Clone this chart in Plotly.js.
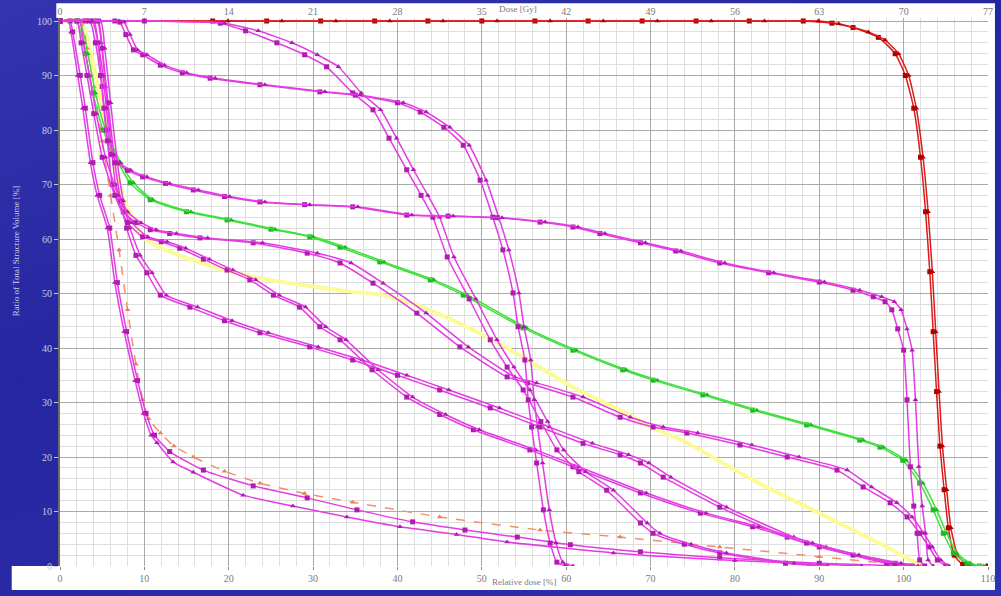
<!DOCTYPE html>
<html><head><meta charset="utf-8">
<script src="https://cdn.plot.ly/plotly-3.0.1.min.js"></script>
<style>
html,body{margin:0;padding:0;width:1001px;height:596px;overflow:hidden;
background:linear-gradient(160deg,#3434b0 0%,#2626a0 40%,#2a2aa8 70%,#3030b0 100%);}
#chart{width:1001px;height:596px;}
</style></head><body>
<div id="chart"></div>
<script>
// ---- tick labels ----
const relTicks = [0,10,20,30,40,50,60,70,80,90,100,110];
const doseTicks = [0,7,14,21,28,35,42,49,56,63,70,77];
const volTicks = [0,10,20,30,40,50,60,70,80,90,100];

// ---- DVH curves: relative dose [%] vs volume [%] ----
const redA_x = [0,18.1,24.5,30.9,37.3,43.6,50,56.3,62.6,69,75.4,81.7,88.1,91.5,94,97,99,100.2,101.2,102,102.6,103.1,103.5,103.9,104.3,104.8,105.3,106,107,110];
const redA_y = [100,100,100,100,100,100,100,100,100,100,100,100,100,99.6,98.8,97,94,90,84,75,65,54,43,32,22,14,7,2,0.3,0];
const redB_x = [0,19.9,26.3,32.7,39.1,45.4,51.8,58.1,64.4,70.8,77.2,83.5,89.9,92.3,95.8,97.8,99.4,100.6,101.5,102.3,102.9,103.4,103.8,104.2,104.6,105.1,105.6,106.4,107.5,110];
const redB_y = [100,100,100,100,100,100,100,100,100,100,100,100,100,99.5,98,96.5,94,90,84,75,65,54,43,32,22,14,7,2,0.3,0];

const greenA_x = [0,2,3,3.9,5.1,6.9,8.3,10.7,15,19.8,25,29.6,33.2,37.9,43.9,47.8,54.9,60.8,66.7,70.3,76.2,82.1,88.5,94.8,97.2,99.9,101.9,103.5,104.7,105.9,107.5,109];
const greenA_y = [100,100,94,86.8,80,74,70.3,67.2,65,63.5,61.8,60.4,58.5,55.8,52.5,49.7,43.7,39.6,36,34.1,31.4,28.6,25.9,23.1,21.8,19.4,15.2,10.3,6,2.4,0.5,0];
const greenB_x = [0,2.3,3.3,4.2,5.4,7.2,8.7,11,15.5,20.3,25.5,30,33.8,38.4,44.3,48.3,55.3,61.2,67.1,70.8,76.7,82.6,89,95.2,97.6,100.3,102.3,103.9,105.1,106.3,107.9,109.5];
const greenB_y = [100,100,94,86.8,80,74,70.3,67.2,65,63.5,61.8,60.4,58.5,55.8,52.5,49.7,43.7,39.6,36,34.1,31.4,28.6,25.9,23.1,21.8,19.4,15.2,10.3,6,2.4,0.5,0];

const yellow_x = [0,2.5,3.5,4.5,5.9,7.5,9.8,12.5,15.8,19.5,23.7,29,34.7,38.3,43,49,54.9,60.8,66.4,70,74.3,82.1,90,98,100.8,102.5];
const yellow_y = [100,100,95,88,77.6,67.7,60.4,58,56.1,54.3,52.8,51.5,50.3,49.7,47.5,43.3,38.3,32.8,28.6,25.6,22.6,15.8,9.7,3.5,1.1,0];

const orange_x = [0,2.5,3.2,4,5,6,7,8,9,9.8,10.5,11.9,13.5,15.8,19.5,23.7,29,34.7,45,56.9,66.4,78.2,90,98,102];
const orange_y = [100,100,95,88,78,68,58,47,37,30.5,27,24.4,22,20,17.4,15.2,13.3,11.7,9,6.6,5.3,3.5,1.7,0.5,0];

const m1A_x = [0,1.2,1.5,2.4,3,3.9,4.7,5.9,6.8,7.9,9.2,10.2,11.2,13,17,22.9,29.3,35.2,41.8,48,54.2,60.5,68.8,78.2,90,100];
const m1A_y = [100,100,98,90,84,74,68,62,52,43,34,28,24,21,17.6,14.7,12.5,10.3,8.1,6.6,5.3,3.9,2.6,1.5,0.5,0];
const m1B_x = [0,1.0,1.3,2.1,2.7,3.6,4.4,5.6,6.5,7.6,8.9,9.9,10.8,11.5,13.4,15.8,21.7,27.6,34,40.3,47,53,65.6,80,95];
const m1B_y = [100,100,98,90,84,74,68,62,52,43,34,28,24,22.6,19.1,17.2,13,11,9,7.2,5.8,4.4,2.4,1,0];

const m2A_x = [0,4,4.5,5,5.5,6.2,7.5,9,10.7,13,16.6,22.9,29.3,33.2,37.1,42.3,47.4,53,55.4,60.8,66.4,70.3,74.3,80.6,86.2,92.1,95.2,98.4,100.4,101.9,103,104,105];
const m2A_y = [100,100,96,88,80,70,65,63,61.7,61,60.2,59.3,57.4,55.6,51.9,46.4,40.2,34.7,33.6,31,27.3,25.5,24.4,22.2,20,17.6,14.5,11.6,9,6,3.5,1.1,0];
const m2B_x = [0,4.4,4.9,5.4,5.9,6.6,8,9.6,11.4,13.8,17.5,24,30.5,34.5,38.3,43.4,48.4,53.9,56.5,62,67.6,71.5,75.6,82,87.6,93.3,96.2,99.2,101,102.4,103.4,104.4,105.4];
const m2B_y = [100,100,96,88,80,70,65,63,61.7,61,60.2,59.3,57.4,55.6,51.9,46.4,40.2,34.7,33.6,31,27.3,25.5,24.4,22.2,20,17.6,14.5,11.6,9,6,3.5,1.1,0];

const m3A_x = [0,4.5,5,5.7,6.5,7.2,7.9,9,10.3,11.9,15.4,19.5,23.7,29.6,34.7,40,45,51,56.9,62,66.4,68.8,71.5,78.2,86.2,90,98,100.5];
const m3A_y = [100,100,95,85,74,67,62,57,53.8,49.7,47.5,45,42.8,40.2,37.8,35,32.3,29,25.5,22.5,20.4,18.9,16.3,10.8,5.3,3.5,0.5,0];
const m3B_x = [0,4.8,5.3,6,6.8,7.5,8.3,9.5,10.9,12.6,16.3,20.4,24.7,30.6,35.8,41.1,46.1,52.1,58,63.1,67.4,69.8,72.4,79,87,90.8,98.6,101];
const m3B_y = [100,100,95,85,74,67,62,57,53.8,49.7,47.5,45,42.8,40.2,37.8,35,32.3,29,25.5,22.5,20.4,18.9,16.3,10.8,5.3,3.5,0.5,0];

const m4A_x = [0,2,2.5,3.2,4,5,6.5,8,9.8,12,14.2,17,19.8,22.5,25.3,28.4,30.8,33.2,37,41.1,45,49,55.7,60.8,68.8,75.9,82.1,88.5,94,99,101];
const m4A_y = [100,100,96,90,83,75,68,63,60.4,59.5,58.3,56.3,54.3,52.5,49.7,47.5,43.9,41.5,36,31,27.8,25,21.3,18.2,13.4,9.7,7.2,4.2,2,0.5,0];
const m4B_x = [0,2.3,2.8,3.5,4.3,5.4,6.9,8.5,10.4,12.7,14.9,17.7,20.5,23.2,26,29.1,31.5,33.9,37.7,41.8,45.7,49.7,56.4,61.5,69.5,76.6,82.8,89.2,94.7,99.7,101.7];
const m4B_y = [100,100,96,90,83,75,68,63,60.4,59.5,58.3,56.3,54.3,52.5,49.7,47.5,43.9,41.5,36,31,27.8,25,21.3,18.2,13.4,9.7,7.2,4.2,2,0.5,0];

const m5A_x = [0,10,19,22,25.7,29,31.6,34.7,37.1,39,41.1,42.8,44.2,45.9,48.5,51,53,54.9,57,58.9,61.5,64.8,68.8,70.3,74,78.2,86,90];
const m5A_y = [100,100,99.6,98.2,96,93.8,91.6,86.8,83.7,78.5,72.7,68,64,56.7,49,41.5,36.5,32.3,26.5,21.3,17.3,13.9,7.9,6,4,2.4,0.5,0];
const m5B_x = [0,10,19.5,23.5,27.5,30.5,33,35.7,38,39.9,41.9,43.6,45,46.7,49.3,51.8,53.8,55.7,57.8,59.7,62.3,65.6,69.6,71.1,74.8,79,87,91];
const m5B_y = [100,100,99.6,98.2,96,93.8,91.6,86.8,83.7,78.5,72.7,68,64,56.7,49,41.5,36.5,32.3,26.5,21.3,17.3,13.9,7.9,6,4,2.4,0.5,0];

const m6A_x = [0,3,6.5,7.1,7.8,8.7,9.8,11.9,14.5,17.8,23.7,30.8,35,40,42.7,45.5,47.8,49.8,51.3,52.5,53.7,54.3,55.1,55.5,55.9,56.5,57.3,58.1,58.9,60];
const m6A_y = [100,100,100,99.8,97.5,94.7,93.8,91.9,90.5,89.5,88.3,87,86.4,85,83.3,80.5,77.2,70.8,64,58,50.1,43.9,37.8,30.5,25.5,18.9,10.3,4.2,0.7,0];
const m6B_x = [0,3,7,7.6,8.3,9.2,10.3,12.4,15,18.4,24.3,31.4,35.6,40.7,43.4,46.2,48.5,50.5,52,53.2,54.4,55,55.8,56.2,56.6,57.2,58,58.8,59.6,60.8];
const m6B_y = [100,100,100,99.8,97.5,94.7,93.8,91.9,90.5,89.5,88.3,87,86.4,85,83.3,80.5,77.2,70.8,64,58,50.1,43.9,37.8,30.5,25.5,18.9,10.3,4.2,0.7,0];

const m7A_x = [0,3.5,4.2,4.8,5.2,5.6,6.1,6.8,8,9.8,12.5,15.8,19.5,23.7,29,34.7,41.1,46,51.8,56.9,60.8,64,68.8,73,78.2,84,90,94,96.4,97.8,98.6,99.3,100,100.4,100.8,101.2,101.6,101.9,102.5];
const m7A_y = [100,100,96,90,84,78,75.5,74,72.6,71.4,70.2,69,67.8,66.8,66.3,65.9,64.4,64.2,63.9,63.1,62.2,61,59.3,57.8,55.6,53.8,52.1,50.6,49.4,48.5,47,43.5,39.6,30.5,18.2,11,6,1.1,0];
const m7B_x = [0,3.8,4.5,5.1,5.5,5.9,6.4,7.1,8.4,10.3,13,16.4,20.1,24.3,29.6,35.3,41.7,46.6,52.4,57.5,61.4,64.6,69.4,73.6,78.8,84.6,90.6,94.8,97.4,98.9,99.7,100.4,101,101.4,101.8,102.2,102.6,102.9,103.5];
const m7B_y = [100,100,96,90,84,78,75.5,74,72.6,71.4,70.2,69,67.8,66.8,66.3,65.9,64.4,64.2,63.9,63.1,62.2,61,59.3,57.8,55.6,53.8,52.1,50.6,49.4,48.5,47,43.5,39.6,30.5,18.2,11,6,1.1,0];

// ---- build traces ----
function curve(x, y, color, sym, mcolor, width, dash, showMarkers){
  return {x:x, y:y, type:'scatter', mode: showMarkers ? 'lines+markers' : 'lines',
    line:{color:color, width:width, dash:dash||'solid', shape:'spline', smoothing:0.5},
    marker:{symbol:sym, size:5, color:mcolor},
    hoverinfo:'skip', showlegend:false};
}
const MAG = '#e43ce4', MAGM = '#b01cb0';
const traces = [
  curve(redA_x, redA_y, '#dc1c1c', 'square', '#b00000', 1.5, 'solid', true),
  curve(redB_x, redB_y, '#dc1c1c', 'triangle-up', '#b00000', 1.5, 'solid', true),
  curve(yellow_x, yellow_y, '#fbfb98', 'circle', '#fbfb98', 4, 'solid', false),
  curve(orange_x, orange_y, '#f09070', 'triangle-up', '#e88060', 1.5, 'dash', true),
  curve(greenA_x, greenA_y, '#3ee03e', 'square', '#22b822', 1.5, 'solid', true),
  curve(greenB_x, greenB_y, '#3ee03e', 'triangle-up', '#22b822', 1.5, 'solid', true),
  curve(m1A_x, m1A_y, MAG, 'square', MAGM, 1.5, 'solid', true),
  curve(m1B_x, m1B_y, MAG, 'triangle-up', MAGM, 1.5, 'solid', true),
  curve(m2A_x, m2A_y, MAG, 'square', MAGM, 1.5, 'solid', true),
  curve(m2B_x, m2B_y, MAG, 'triangle-up', MAGM, 1.5, 'solid', true),
  curve(m3A_x, m3A_y, MAG, 'square', MAGM, 1.5, 'solid', true),
  curve(m3B_x, m3B_y, MAG, 'triangle-up', MAGM, 1.5, 'solid', true),
  curve(m4A_x, m4A_y, MAG, 'square', MAGM, 1.5, 'solid', true),
  curve(m4B_x, m4B_y, MAG, 'triangle-up', MAGM, 1.5, 'solid', true),
  curve(m5A_x, m5A_y, MAG, 'square', MAGM, 1.5, 'solid', true),
  curve(m5B_x, m5B_y, MAG, 'triangle-up', MAGM, 1.5, 'solid', true),
  curve(m6A_x, m6A_y, MAG, 'square', MAGM, 1.5, 'solid', true),
  curve(m6B_x, m6B_y, MAG, 'triangle-up', MAGM, 1.5, 'solid', true),
  curve(m7A_x, m7A_y, MAG, 'square', MAGM, 1.5, 'solid', true),
  curve(m7B_x, m7B_y, MAG, 'triangle-up', MAGM, 1.5, 'solid', true),
  // hidden trace that carries the top dose axis
  {x: doseTicks, y: doseTicks.map(() => null), xaxis:'x2', yaxis:'y', type:'scatter', mode:'lines',
   hoverinfo:'skip', showlegend:false}
];

const tickFontW = {family:'Liberation Serif, DejaVu Serif, serif', size:10, color:'#7a7a7a'};
const tickFontB = {family:'Liberation Serif, DejaVu Serif, serif', size:10, color:'#c9c9e2'};

const layout = {
  width:1001, height:596,
  margin:{l:60, r:13, t:18, b:30, pad:0},
  paper_bgcolor:'rgba(0,0,0,0)', plot_bgcolor:'#ffffff',
  showlegend:false,
  xaxis:{range:[0,110], tickvals:relTicks, ticktext:relTicks.map(String),
    showgrid:true, gridcolor:'#a9a9a9', gridwidth:1,
    minor:{dtick:2, showgrid:true, gridcolor:'#dedede', gridwidth:1},
    zeroline:false, showline:false, ticks:'outside', ticklen:3, tickcolor:'#888',
    tickfont:tickFontW, fixedrange:true},
  xaxis2:{range:[0,77], overlaying:'x', side:'top', tickvals:doseTicks, ticktext:doseTicks.map(String),
    showgrid:false, zeroline:false, showline:false, ticks:'', ticklen:0,
    tickfont:tickFontW, fixedrange:true},
  yaxis:{range:[0,100.55], tickvals:volTicks, ticktext:volTicks.map(String),
    showgrid:true, gridcolor:'#a9a9a9', gridwidth:1,
    minor:{dtick:2, showgrid:true, gridcolor:'#dedede', gridwidth:1},
    zeroline:false, showline:true, linecolor:'#6c6c6c', linewidth:2,
    ticks:'outside', ticklen:4, tickcolor:'#c9c9e2',
    tickfont:tickFontB, fixedrange:true},
  shapes:[
    {type:'rect', xref:'paper', yref:'paper', x0:-0.004, x1:1.0075, y0:1, y1:1.027,
     fillcolor:'#ffffff', line:{width:0}, layer:'below'},
    {type:'rect', xref:'paper', yref:'paper', x0:-0.052, x1:1.0075, y0:-0.044, y1:0,
     fillcolor:'#ffffff', line:{width:0}, layer:'below'},
    {type:'rect', xref:'paper', yref:'paper', x0:1, x1:1.0075, y0:0, y1:1,
     fillcolor:'#ffffff', line:{width:0}, layer:'below'}
  ],
  annotations:[
    {text:'Dose [Gy]', xref:'paper', yref:'paper', x:0.493, y:1.029, xanchor:'center', yanchor:'top',
     showarrow:false, font:{family:'Liberation Serif, serif', size:9, color:'#7a7a7a'}},
    {text:'Relative dose [%]', xref:'paper', yref:'paper', x:0.5, y:-0.017, xanchor:'center', yanchor:'top',
     showarrow:false, font:{family:'Liberation Serif, serif', size:9, color:'#7a7a7a'}},
    {text:'Ratio of Total Structure Volume [%]', xref:'paper', yref:'paper', x:-0.047, y:0.575,
     xanchor:'center', yanchor:'middle', textangle:-90, showarrow:false,
     font:{family:'Liberation Serif, serif', size:9, color:'#c9c9e2'}}
  ]
};

Plotly.newPlot('chart', traces, layout, {displayModeBar:false, staticPlot:true});
</script>
</body></html>
